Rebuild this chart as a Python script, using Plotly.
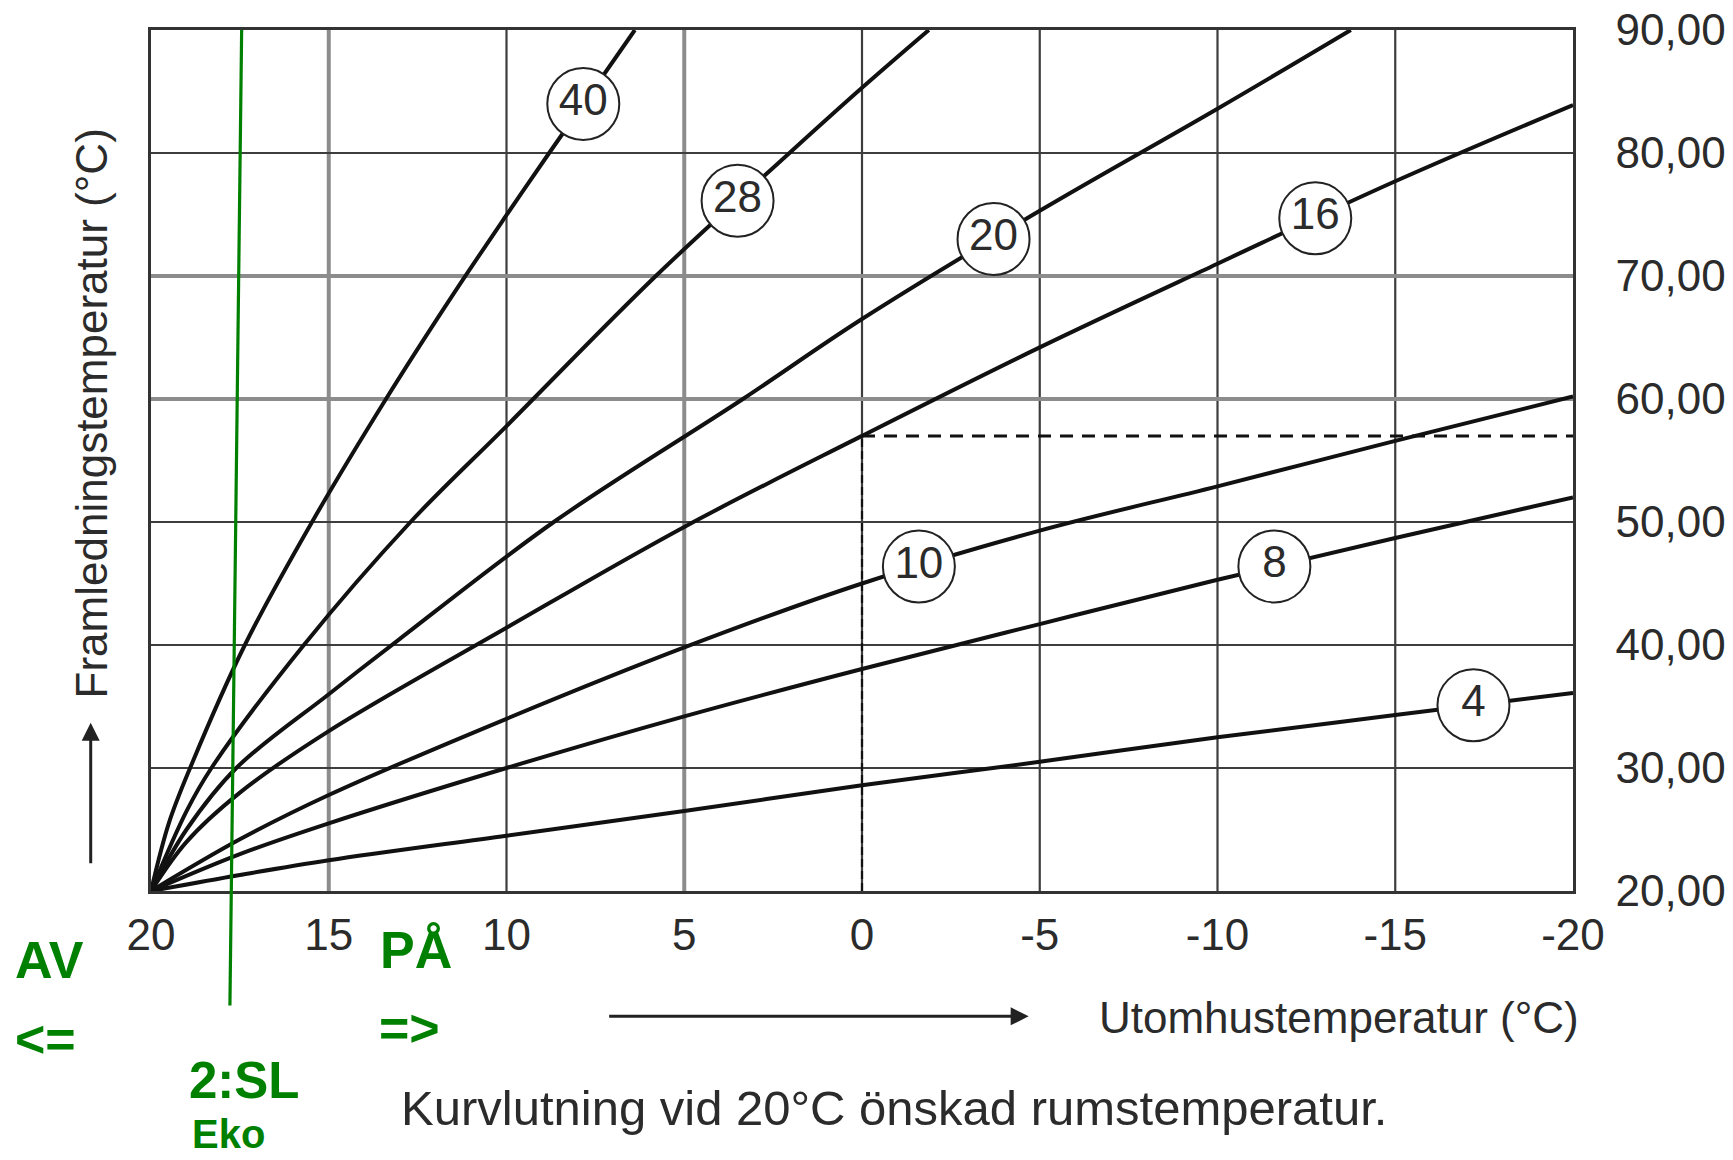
import numpy as np
import plotly.graph_objects as go

# ---------------- data ----------------
x_tickvals = [20, 15, 10, 5, 0, -5, -10, -15, -20]
x_ticktext = ["20", "15", "10", "5", "0", "-5", "-10", "-15", "-20"]
y_tickvals = [20, 30, 40, 50, 60, 70, 80, 90]
y_ticktext = ["20,00", "30,00", "40,00", "50,00", "60,00", "70,00", "80,00", "90,00"]

curve_names = ["4", "8", "10", "16", "20", "28", "40"]

c4_x = [20, 17.5, 15, 10, 5, 0, -5, -10, -15, -20]
c4_y = [20, 21.3, 22.5, 24.5, 26.5, 28.6, 30.5, 32.5, 34.3, 36.1]

c8_x = [20, 17.5, 15, 10, 5, 0, -5, -10, -15, -20]
c8_y = [20, 23.0, 25.5, 30.0, 34.2, 38.05, 41.7, 45.3, 48.7, 52.0]

c10_x = [20, 17.5, 15, 10, 5, 0, -5, -10, -15, -20]
c10_y = [20, 24.2, 27.8, 34.0, 39.8, 45.0, 49.3, 52.9, 56.6, 60.2]

c16_x = [20, 19, 17.5, 15, 10, 5, 0, -5, -10, -15, -20]
c16_y = [20, 24.0, 28.0, 33.0, 41.4, 49.6, 57.0, 64.2, 71.0, 77.7, 83.9]

c20_x = [20, 19, 17.6, 15, 13.0, 8.67, 3.35, 0, -5, -10, -13.75]
c20_y = [20, 25.0, 30, 36.0, 40.5, 50, 60, 66.5, 75.3, 83.6, 90]

c28_x = [20, 19, 18.3, 15.7, 12.7, 10, 5.8, 2.04, 0, -1.88]
c28_y = [20, 26.5, 30, 40, 50, 57.8, 70, 80, 85.3, 90]

c40_x = [20, 19.5, 18.9, 17.36, 15.47, 13.39, 11.57, 10.06, 8.80, 6.39]
c40_y = [20, 25.5, 30, 40, 50, 60, 68.2, 74.7, 80, 90]

# x position (outdoor temp) of each circled label, same order as curve_names
label_x = [-17.2, -11.6, -1.6, -12.75, -3.7, 3.5, 7.84]

# dashed read-off example: outdoor 0 degC on curve 16
example_x = 0
example_curve = "16"

# green annotation line (x in data units; y in paper units)
green_line_x = [17.45, 17.78]
green_line_y = [1.0, -0.133]

gray_grid_x = [15, 5]
gray_grid_y = [60, 70]

# ---------------- styles ----------------
SANS = "Liberation Sans, Arial, sans-serif"
TXT = "#2b2b2b"
GREEN = "#008000"
DARK_GRID = "#3d3d3d"
GRAY_GRID = "#8c8c8c"

curves = {
    "4": (c4_x, c4_y), "8": (c8_x, c8_y), "10": (c10_x, c10_y),
    "16": (c16_x, c16_y), "20": (c20_x, c20_y), "28": (c28_x, c28_y),
    "40": (c40_x, c40_y),
}

fig = go.Figure()

# dashed example lines
ex_x, ex_y = curves[example_curve]
y_at_example = float(np.interp(example_x, ex_x[::-1], ex_y[::-1]))
fig.add_trace(go.Scatter(x=[example_x, example_x], y=[y_tickvals[0], y_at_example],
                         mode="lines", line=dict(color="#111", width=2.2, dash="8px,4px"),
                         hoverinfo="skip", showlegend=False))
fig.add_trace(go.Scatter(x=[example_x, x_tickvals[-1]], y=[y_at_example, y_at_example],
                         mode="lines", line=dict(color="#111", width=3, dash="13px,9px"),
                         hoverinfo="skip", showlegend=False))

# heating curves
for name in curve_names:
    cx, cy = curves[name]
    fig.add_trace(go.Scatter(x=cx, y=cy, mode="lines",
                             line=dict(color="#111", width=4, shape="spline", smoothing=1.0),
                             name=name, showlegend=False))

# circled labels
lab_y = []
for name, lx in zip(curve_names, label_x):
    cx, cy = curves[name]
    lab_y.append(float(np.interp(lx, cx[::-1], cy[::-1])))
fig.add_trace(go.Scatter(x=label_x, y=lab_y, mode="markers+text",
                         text=curve_names, textposition="middle center",
                         textfont=dict(family=SANS, size=44, color=TXT),
                         marker=dict(symbol="circle", size=72, color="white",
                                     line=dict(color="#222", width=2)),
                         cliponaxis=False, showlegend=False))

shapes = []
# grid lines (dark ones, then lighter grey ones as in the scan)
for gx in x_tickvals[1:-1]:
    col, w = (GRAY_GRID, 4) if gx in gray_grid_x else (DARK_GRID, 2.2)
    shapes.append(dict(type="line", xref="x", yref="paper", x0=gx, x1=gx, y0=0, y1=1,
                       line=dict(color=col, width=w), layer="below"))
for gy in y_tickvals[1:-1]:
    col, w = (GRAY_GRID, 4) if gy in gray_grid_y else (DARK_GRID, 2.2)
    shapes.append(dict(type="line", xref="paper", yref="y", x0=0, x1=1, y0=gy, y1=gy,
                       line=dict(color=col, width=w), layer="below"))
shapes.append(dict(type="line", xref="x", yref="paper",
                   x0=green_line_x[0], x1=green_line_x[1],
                   y0=green_line_y[0], y1=green_line_y[1],
                   line=dict(color=GREEN, width=3.2), layer="above"))

annotations = [
    # y axis title
    dict(text="Framledningstemperatur (°C)", xref="paper", yref="paper", x=-0.042, y=0.555,
         textangle=-90, showarrow=False, xanchor="center", yanchor="middle",
         font=dict(family=SANS, size=44, color=TXT)),
    # y arrow
    dict(text="", xref="paper", yref="paper", x=-0.0424, y=0.1955, ax=0, ay=142,
         showarrow=True, arrowhead=2, arrowsize=1.2, arrowwidth=3, arrowcolor="#222"),
    # x axis title
    dict(text="Utomhustemperatur (°C)", xref="paper", yref="paper", x=0.8352, y=-0.1468,
         showarrow=False, xanchor="center", yanchor="middle",
         font=dict(family=SANS, size=44, color=TXT)),
    # x arrow
    dict(text="", xref="paper", yref="paper", x=0.6172, y=-0.1456, ax=-421, ay=0,
         showarrow=True, arrowhead=2, arrowsize=1.2, arrowwidth=3, arrowcolor="#222"),
    # caption
    dict(text="Kurvlutning vid 20°C önskad rumstemperatur.", xref="paper", yref="paper",
         x=0.5225, y=-0.2515, showarrow=False, xanchor="center", yanchor="middle",
         font=dict(family=SANS, size=49, color=TXT)),
]
green_texts = [
    ("<b>AV</b>", -0.0714, -0.0805, 52),
    ("<b>&lt;=</b>", -0.0741, -0.1723, 52),
    ("<b>PÅ</b>", 0.1863, -0.0689, 52),
    ("<b>=&gt;</b>", 0.182, -0.1595, 52),
    ("<b>2:SL</b>", 0.0657, -0.220, 51),
    ("<b>Eko</b>", 0.0545, -0.2825, 40),
]
for t, gx, gy, sz in green_texts:
    annotations.append(dict(text=t, xref="paper", yref="paper", x=gx, y=gy,
                            showarrow=False, xanchor="center", yanchor="middle",
                            font=dict(family=SANS, size=sz, color=GREEN)))

fig.update_layout(
    width=1733, height=1160,
    margin=dict(l=151, r=160, t=30, b=269, autoexpand=False),
    paper_bgcolor="white", plot_bgcolor="white",
    shapes=shapes, annotations=annotations,
    xaxis=dict(range=[20, -20], tickvals=x_tickvals, ticktext=x_ticktext,
               showgrid=False, automargin=False,
               showline=True, mirror=True, linecolor="#333", linewidth=2.5,
               zeroline=False, ticks="", ticklabelstandoff=3,
               tickfont=dict(family=SANS, size=44, color=TXT)),
    yaxis=dict(range=[20, 90], tickvals=y_tickvals, ticktext=y_ticktext, side="right",
               showgrid=False, automargin=False,
               showline=True, mirror=True, linecolor="#333", linewidth=2.5,
               zeroline=False, ticks="", ticklabelstandoff=31,
               tickfont=dict(family=SANS, size=44, color=TXT)),
)

fig.write_html("out.html",
               config={"displayModeBar": False},
               post_script="document.body.style.margin='0px';document.body.style.overflow='hidden';")
